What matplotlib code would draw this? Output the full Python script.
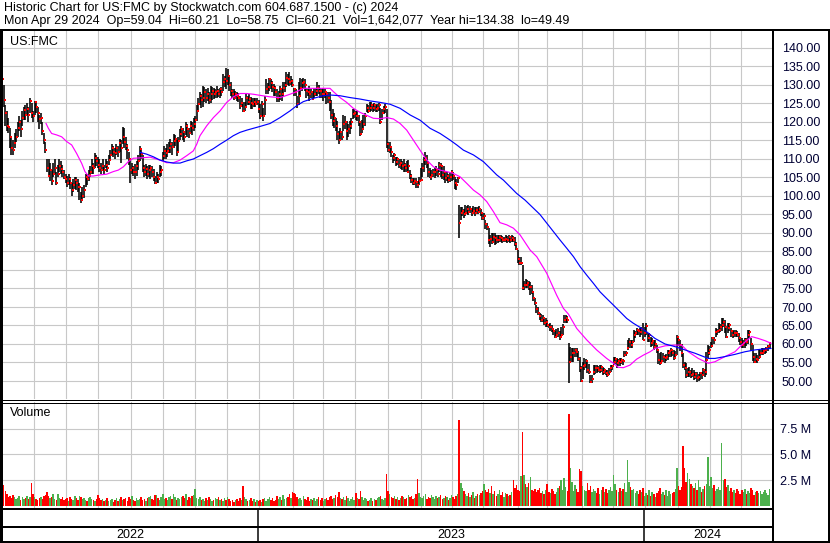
import numpy as np
import matplotlib
matplotlib.use("Agg")
import matplotlib.pyplot as plt
from matplotlib.lines import Line2D

plt.rcParams["font.family"] = ["Liberation Sans", "DejaVu Sans"]

# ------------------------------------------------------------------
# Daily bars, trading-day index 0 (early May 2022) .. 497 (Apr 29 2024)
# ------------------------------------------------------------------
closes = [
    131.5, 126, 122.3, 119, 118.7, 116, 113, 112.4, 114.4, 116,
    118.3, 120, 118, 121, 123.2, 122, 123.4, 122, 125.8, 122.5,
    121.5, 125.3, 124, 122.3, 120.8, 121, 117.7, 115.1, 112.4, 107.5,
    105.5, 107, 104.1, 106, 107.5, 103.6, 106, 108, 107.3, 106.5,
    105.2, 104.5, 103.5, 104.5, 103.4, 101.5, 103, 104.3, 103.5, 102.5,
    102.5, 98.9, 100, 101.5, 105.2, 104.5, 105.7, 106.5, 108, 107.5,
    110.2, 109.5, 108.4, 107.5, 107, 108, 107, 108.5, 107.5, 109.7,
    111, 112.9, 112, 111.5, 113, 112, 114.4, 113, 116, 114.5,
    113.5, 112.4, 110, 107, 107.5, 106.6, 106.4, 108, 109.5, 112.7,
    111.3, 107.7, 106.4, 107.3, 106, 107, 107.7, 106.5, 105, 103.6,
    105, 104.5, 106.4, 107, 110.9, 112.2, 111.5, 112.2, 113, 114,
    113.2, 114.9, 115.5, 112, 114.9, 116.7, 118, 117.2, 116, 119,
    118, 117, 119, 118.5, 119.4, 120.5, 123, 124.8, 127.1, 126,
    126.6, 128, 126.6, 127.5, 126, 127.5, 128.5, 127.5, 128.2, 128.4,
    127.5, 128.9, 128, 130.7, 131.5, 131.1, 132.5, 130, 128.4, 127.5,
    126.6, 127.5, 127.1, 126.5, 124.4, 125, 123, 124, 126.6, 125.5,
    126.2, 125, 124.8, 125.5, 124.8, 125.5, 123.5, 121.7, 124.8, 121.7,
    126, 128.9, 129.5, 131.6, 130.5, 129.5, 129.3, 128, 126.6, 127.5,
    128.9, 127.5, 129.3, 130, 132, 131.5, 130.7, 131.2, 130, 128.9,
    128, 124.8, 127, 129.3, 130.5, 130.7, 130, 128.4, 128, 127.5,
    128, 126.2, 127.5, 128.5, 129.3, 128.5, 128.4, 127.5, 127.5, 128,
    127.5, 126.5, 125.3, 122, 120.3, 121, 119, 116.7, 115, 117.2,
    116, 119.4, 120, 117.6, 118, 119, 120, 122.1, 122.5, 121.7,
    121.7, 120, 116.7, 118, 119.4, 121.5, 123.9, 123, 123.9, 124.5,
    123.9, 124.5, 123.5, 123.9, 124.5, 119.9, 122.5, 123.5, 124, 114,
    112.5, 113.3, 112, 110.2, 111, 109.3, 110, 108.5, 108.8, 108,
    108.4, 107.5, 106.6, 108, 105.5, 104.3, 103.4, 104, 103.8, 103,
    104, 104.3, 107.5, 109.7, 110.2, 109, 106.5, 105.2, 105.7, 106.5,
    106.6, 107, 106, 108.4, 108, 105.7, 106.5, 104.8, 105.5, 104.3,
    105, 106.6, 105.5, 103.5, 103, 104.8, 92.6, 95.3, 96, 95,
    95.3, 96.5, 95.8, 96.5, 95.3, 96, 95.3, 96.2, 95.8, 96.5,
    95.5, 94, 94.5, 92.5, 91.7, 88.1, 88.5, 87.7, 89, 88.6,
    88, 88.1, 88.8, 88.6, 88, 88.1, 88.5, 88.1, 88.8, 88,
    88.6, 88.2, 87, 85.8, 83, 81.8, 82, 75, 76, 75.9,
    76.5, 75.5, 75.5, 74, 72.5, 71, 69.5, 68.3, 67.5, 66.5,
    67, 65.6, 66, 65.1, 64.5, 64.7, 64, 63.5, 62, 62.4,
    63, 62, 62.5, 64.7, 66.5, 67, 66.5, 55, 56.6, 57.5,
    57.5, 58.5, 57.9, 56, 53.4, 50, 54, 54.3, 55.5, 53,
    52.5, 49.8, 50.5, 52.5, 53.5, 53.4, 53, 53, 53.8, 52.5,
    53, 52.2, 51.6, 52.5, 53.4, 54, 55.2, 56, 54.8, 55.5,
    55.2, 55.8, 55.5, 57, 57.5, 58.8, 60.5, 59.7, 60.5, 62.4,
    63, 63.8, 63.5, 63.3, 64, 61.1, 63, 64.9, 61.5, 62.4,
    60.2, 60.8, 59.3, 60, 58.5, 55.7, 54.8, 55.5, 56.5, 56.1,
    56.5, 57.5, 58, 58.4, 57.5, 56.1, 57, 62, 61, 59.7,
    57.5, 54.3, 53.5, 51.6, 52.5, 52.5, 51.5, 52, 51.2, 51.8,
    50.7, 51.2, 52.1, 51.5, 53, 52.5, 55.7, 57.5, 58.5, 59.5,
    61.5, 61, 63.3, 63.5, 63.8, 64.5, 65.1, 66, 64.5, 62,
    64.2, 65, 63.5, 62.4, 63, 62.9, 62.5, 61.5, 60.6, 59.7,
    60.2, 61.1, 60.5, 62.5, 63.3, 60, 56.6, 55.2, 56, 55.8,
    56.6, 57.5, 57.5, 58.2, 58.4, 58.8, 59.5, 60.21,
]

highs = [
    133, 130, 124.5, 123, 121, 118.5, 116, 115, 117, 118,
    120, 121.5, 120.5, 123, 124, 124.5, 125, 124, 126.5, 125,
    123, 125.8, 125.5, 124, 122, 122.5, 120, 117, 114.5, 110,
    110, 109, 107, 109, 110, 106.5, 108.5, 110, 109.5, 108.5,
    107, 106, 105.5, 106, 105, 103.5, 104.5, 105, 105, 104.5,
    103.5, 101, 102.5, 103, 106, 106, 107, 108, 110, 109,
    111.5, 111, 110.5, 110, 109, 110, 108.5, 110, 109.5, 111,
    112.5, 114, 113.5, 113, 114, 113.5, 115.5, 115, 118.7, 118.5,
    116, 114, 112, 110, 109, 108, 108.6, 109.5, 111, 113.6,
    113, 111, 108.5, 108.6, 108, 108.5, 108.5, 108, 107.3, 105.5,
    106.5, 106, 108.5, 108, 112, 113.6, 113, 114, 114.5, 115.4,
    114.5, 116.7, 116.5, 115, 116, 118, 119, 118.5, 117.5, 119.9,
    119.5, 118.5, 120.3, 120, 121.2, 121.5, 124.5, 126.6, 128, 127.5,
    129.8, 129.5, 129, 129.3, 128, 129.8, 129.5, 129.3, 129, 129.8,
    129, 129.3, 129.5, 132.9, 132.5, 134.7, 134.2, 132.5, 130.7, 129,
    128.9, 128.5, 128, 127.8, 127, 126.5, 125.5, 125.5, 127.5, 127,
    127.5, 126.8, 126.6, 126.5, 126.6, 126.5, 126, 124.8, 125.7, 123.9,
    127, 131.6, 130.5, 132, 131.5, 131, 130.2, 129.8, 129, 128.5,
    129.8, 129, 130.7, 130.7, 133.4, 133, 133.4, 132.5, 131.5, 129.3,
    129, 127, 130.7, 132, 131.5, 132, 131.5, 129.3, 129, 129.8,
    129, 128.5, 129.3, 129.3, 130.7, 130, 129.3, 129, 129.3, 129,
    128.4, 128, 128, 126, 123.5, 122.5, 121, 120.3, 117.5, 118.5,
    117.5, 122, 121.5, 120.3, 119.5, 120.3, 121, 123.5, 123.5, 123,
    123, 122, 120, 120.5, 122, 122.5, 124.8, 124.5, 125.3, 125.5,
    124.8, 125, 124.5, 124.8, 125, 123.9, 123.5, 124.4, 124.8, 123.5,
    114.5, 114.7, 113.5, 111.1, 111.5, 110.6, 110.5, 110, 110, 109.5,
    110, 109, 109.5, 109.8, 107, 106, 104.8, 104.8, 104.8, 104,
    105, 107.5, 109, 110.6, 112, 111, 109.5, 107.5, 107, 107.2,
    107.9, 108, 107.5, 109.3, 109, 108.4, 108, 106.6, 106.5, 106,
    106.6, 107, 106.5, 105.2, 104.5, 105, 97.6, 97, 97.1, 96.5,
    97.5, 97.3, 97.5, 97.3, 96.8, 97.3, 97.1, 97, 97.1, 97.3,
    96.6, 95.5, 95.3, 93.5, 92.8, 91.3, 89.5, 89.9, 89.9, 89.9,
    89.5, 89.5, 89.5, 89.5, 89.3, 89, 89.5, 89.2, 89.5, 89,
    89.5, 89.3, 89, 87.5, 85.4, 83.5, 83.5, 81.4, 77, 77.5,
    77.3, 77, 76.8, 76, 74.1, 72.5, 70.5, 70, 68.3, 68,
    67.8, 67.4, 67, 66.5, 65.5, 65.6, 65, 64.2, 63.5, 64,
    64.2, 63.5, 64.7, 65.5, 67.8, 67.8, 67.5, 60.2, 59.3, 59,
    58.8, 58.8, 58.8, 58, 56.6, 54, 55, 56.1, 56, 55.5,
    54.5, 51.6, 51.5, 54.3, 54.3, 54.3, 54, 54.3, 54.2, 53.9,
    53.5, 53, 53, 53.4, 54.3, 54.3, 56.6, 56.6, 56.1, 56,
    56.1, 56.1, 56, 58, 58, 61, 61.5, 61.1, 61, 63.8,
    63.5, 64.2, 64, 64.2, 64.5, 65.6, 64.5, 65.6, 63, 63,
    62, 61.5, 61.1, 61, 59.7, 58, 57.5, 57.9, 57.5, 57,
    57.2, 58.4, 58.4, 58.8, 58.5, 58.4, 58, 62.4, 62.2, 61,
    60, 57.5, 55, 54.8, 53.5, 53.9, 53, 53.5, 53, 52.5,
    52.5, 52, 52.5, 52.3, 53.4, 53.2, 57.9, 59.7, 59.5, 60.5,
    62, 62, 64.2, 64, 65.6, 65.3, 66.9, 66.9, 66.5, 64.5,
    65.6, 65.6, 64.2, 63.5, 63.8, 63.8, 63.5, 62.9, 61.5, 61.5,
    61, 61.5, 61.5, 63.8, 63.8, 61.5, 59.7, 57.5, 57.5, 57,
    58.4, 58.5, 58.8, 59, 59, 59.2, 59.8, 60.21,
]

lows = [
    129, 124, 119, 117.5, 117, 113, 111, 111, 113, 114.5,
    116, 117.5, 116, 119, 120.5, 120.5, 122, 120, 122.5, 121,
    120, 122, 122.5, 120, 118, 119.5, 116.5, 114, 111.5, 106.5,
    105, 104, 103, 105, 106, 103, 105, 106.5, 106, 105,
    104.5, 103.5, 102.5, 103, 102, 100, 101, 102, 101.5, 101,
    99, 98, 99, 99.5, 102.5, 103, 104, 105, 106, 106,
    107.5, 108, 107.5, 106.5, 106, 107, 106, 107.5, 106.5, 108.5,
    109.5, 111, 110.5, 110, 111, 110.5, 112, 109, 114, 113,
    112.5, 110, 108.5, 103.5, 106, 105.5, 104.5, 105.5, 107, 109.5,
    110, 106.5, 105, 105.5, 104.5, 105, 104.5, 105, 104, 103.2,
    103.5, 103.5, 105, 105.5, 109.5, 110, 110, 110.5, 111.5, 111.5,
    111, 113, 113.5, 110.9, 112, 115, 116, 115, 114.5, 116.5,
    116, 115.8, 117, 116.5, 117.5, 118.5, 120.3, 123, 124.5, 123.9,
    124, 125.5, 125, 125.8, 124.8, 125, 126, 126.2, 126.5, 126.6,
    126.8, 126.6, 127, 128.4, 129.5, 129, 130, 128.4, 127, 126.6,
    126, 126.2, 125.7, 125.5, 123.5, 124, 122.6, 123, 124, 124.5,
    124.5, 123.5, 123.5, 124, 124, 124.5, 122.5, 120.8, 121.5, 120.3,
    122, 127.5, 127.5, 128.4, 129, 128, 127, 127, 125.3, 125.5,
    126, 125.7, 127.1, 128, 129.5, 130, 129.8, 130, 129.5, 127.1,
    127, 123.9, 124.5, 127, 128.5, 129, 128.5, 126.6, 127, 125.7,
    126.5, 126, 126.5, 127, 127.1, 127.5, 126.6, 126.5, 125.7, 126.5,
    124.8, 125, 123, 120.8, 119, 118.5, 117.6, 115, 114, 115.4,
    115, 117.6, 118, 115, 116, 116.7, 118, 120.8, 121, 120.5,
    120.3, 119, 116.3, 117, 118, 119, 122.6, 122.5, 122.8, 123,
    122.8, 123, 122.8, 122.6, 123, 119.4, 120.5, 122.1, 122.5, 113,
    111.8, 111.5, 110.6, 108.8, 109.5, 108, 108.5, 107.5, 107.2, 107,
    106.6, 106.5, 106.5, 106.8, 104.5, 103.6, 103, 103, 102.1, 102.1,
    103, 104, 105, 106.6, 108.4, 107.5, 105, 104.8, 104.3, 105,
    104.8, 105.5, 105, 106.5, 105.2, 104.5, 104.3, 103.5, 104, 103.5,
    103.8, 104, 104.3, 102, 101.6, 103.5, 88.6, 93.5, 94.5, 94,
    94.5, 95, 94.8, 95.5, 94.5, 95, 94.5, 95, 95, 95.5,
    94.5, 93.5, 93.5, 91, 90.8, 87, 86.3, 87, 87.5, 86.7,
    87, 87.2, 87.5, 87.5, 87.2, 87.5, 87.5, 87.3, 87.5, 87.2,
    87.6, 87.5, 86.5, 85.4, 82, 81.4, 81.4, 74.6, 74.6, 75,
    75, 74.6, 73.2, 73.5, 71.5, 70.5, 68.5, 67.8, 66.5, 66,
    66, 65, 64.7, 64.5, 64.2, 63.5, 63.3, 62.5, 61.5, 62,
    62, 61.1, 61.5, 62.5, 65.6, 65.6, 65.8, 49.49, 55.5, 55.2,
    55, 56.5, 56.5, 55.5, 52.5, 49.8, 50.5, 53, 53.5, 52.1,
    52, 49.5, 49.5, 51.6, 52, 52.1, 52.3, 52.1, 52.5, 51.6,
    51.8, 51.5, 51.2, 51.5, 52.5, 53, 54.2, 54.5, 53.5, 54,
    54, 54.5, 54.3, 56.6, 56.8, 58.4, 59, 58.8, 59, 60.6,
    61.5, 62.5, 62.4, 62, 62.5, 61, 62, 62.4, 60.5, 60.5,
    59.3, 59.5, 58.4, 58.8, 57.5, 54.5, 54.3, 54.5, 55, 54.8,
    55.5, 55.7, 56.5, 56.6, 56.8, 55.7, 56, 57, 59.5, 58,
    56.5, 53.5, 53, 50.7, 51, 51, 50.8, 51, 50.3, 50.5,
    49.8, 50.1, 50.3, 50.5, 51.5, 51.2, 51.6, 56.1, 57, 58.8,
    59.5, 60, 62, 62.5, 63, 63.2, 63.5, 64.5, 63, 61.5,
    62.9, 63.5, 62, 61.5, 62, 62, 62, 60.5, 59.7, 58.8,
    59, 59, 59.5, 60, 61.5, 58, 55.5, 54.8, 55, 54.8,
    56, 56.5, 57, 57, 57.2, 57.5, 58, 58.75,
]

# volume in millions of shares
volumes = [
    1.8, 2.1, 1.5, 1.2, 0.9, 1.0, 0.8, 1.1, 0.9, 0.7,
    0.8, 1.0, 0.6, 0.9, 0.7, 0.8, 1.0, 0.7, 0.9, 2.3,
    1.2, 0.9, 0.7, 0.6, 0.8, 0.9, 0.7, 1.0, 1.1, 1.4,
    1.0, 0.8, 0.9, 1.2, 0.7, 0.6, 1.2, 0.8, 0.7, 0.9,
    0.6, 0.7, 0.8, 0.5, 0.9, 0.7, 0.6, 1.0, 0.8, 0.6,
    1.0, 0.9, 0.7, 0.8, 0.6, 0.5, 0.8, 0.9, 0.7, 0.6,
    0.5, 0.7, 1.1, 0.8, 0.6, 0.7, 0.5, 0.6, 0.8, 0.5,
    0.6, 0.7, 0.4, 0.6, 0.8, 0.5, 0.7, 0.9, 0.6, 0.7,
    0.8, 0.5, 0.9, 0.7, 1.0, 0.6, 0.5, 0.8, 0.6, 0.7,
    0.9, 0.6, 0.7, 0.5, 0.8, 0.9, 1.0, 0.7, 0.6, 1.1,
    1.1, 0.8, 0.6, 0.9, 1.2, 0.7, 0.8, 0.6, 0.9, 1.0,
    0.7, 1.2, 0.9, 0.6, 0.8, 0.7, 0.9, 1.0, 0.8, 1.2,
    0.6, 0.9, 0.8, 1.0, 1.1, 1.7, 0.8, 0.7, 0.9, 0.6,
    0.7, 0.5, 0.8, 0.6, 0.9, 0.7, 0.5, 0.6, 0.8, 0.7,
    0.9, 0.6, 0.7, 0.5, 0.8, 0.6, 0.9, 0.7, 0.5, 0.6,
    0.4, 0.6, 0.7, 0.5, 0.8, 0.6, 2.0, 0.9, 0.7, 0.5,
    0.6, 0.8, 0.5, 0.7, 0.4, 0.6, 0.5, 0.6, 0.4, 0.7,
    0.8, 0.5, 0.7, 0.9, 0.6, 0.8, 0.5, 0.6, 1.0, 0.7,
    0.9, 0.6, 1.1, 0.7, 0.8, 0.9, 1.2, 0.8, 1.4, 1.3,
    1.2, 0.9, 0.7, 0.8, 0.6, 1.0, 0.7, 0.6, 0.9, 0.5,
    0.7, 0.6, 0.8, 0.5, 0.7, 0.9, 0.6, 0.8, 0.5, 0.7,
    0.8, 0.6, 0.9, 1.0, 0.7, 0.8, 1.1, 0.9, 1.4, 0.8,
    0.7, 0.9, 0.6, 1.0, 0.8, 0.5, 0.7, 0.9, 0.6, 1.3,
    0.8, 0.7, 1.45, 0.9, 0.6, 0.8, 0.7, 0.5, 0.6, 0.8,
    0.5, 0.7, 0.6, 0.8, 0.9, 1.0, 0.7, 0.6, 0.8, 3.1,
    1.5, 1.2, 0.9, 0.8, 1.0, 0.7, 0.9, 0.6, 0.8, 1.0,
    0.9, 0.7, 0.8, 1.1, 0.9, 1.0, 0.7, 0.8, 1.2, 2.6,
    1.3, 0.9, 0.8, 1.0, 1.2, 0.7, 0.9, 0.8, 1.1, 0.9,
    0.7, 1.0, 0.8, 0.9, 1.1, 0.7, 0.8, 1.0, 0.9, 0.6,
    0.8, 1.1, 0.9, 0.7, 1.0, 1.2, 8.3, 2.3, 1.8, 1.5,
    1.2, 1.0, 1.3, 0.9, 1.1, 1.4, 0.8, 1.0, 1.2, 1.1,
    1.3, 1.5, 2.2, 1.6, 1.4, 1.7, 1.3, 2.0, 1.2, 1.5,
    1.0, 1.2, 1.6, 1.1, 1.4, 0.9, 1.3, 1.2, 1.0, 1.1,
    1.4, 2.5, 1.8, 2.1, 1.6, 1.5, 2.9, 7.2, 3.0, 2.2,
    1.9, 2.3, 2.8, 1.6, 1.5, 1.7, 1.4, 1.6, 1.8, 1.3,
    1.5, 1.2, 1.6, 2.2, 1.4, 1.3, 1.7, 1.5, 1.2, 1.4,
    1.8, 2.0, 2.5, 1.6, 2.7, 1.9, 1.5, 8.9, 3.7, 2.4,
    1.5, 2.1, 1.7, 1.4, 3.6, 3.4, 2.0, 1.6, 1.5, 2.3,
    1.6, 2.0, 1.4, 1.7, 1.5, 1.3, 1.8, 1.2, 1.6, 1.9,
    1.4, 1.7, 1.3, 1.6, 1.9, 1.5, 3.0, 2.2, 1.6, 1.4,
    1.8, 1.5, 1.7, 2.3, 1.4, 4.5, 2.4, 1.9, 1.6, 1.7,
    1.3, 1.5, 1.2, 1.6, 1.4, 1.8, 1.0, 1.3, 1.1, 1.6,
    1.0, 1.4, 1.2, 0.9, 1.3, 1.5, 1.8, 1.2, 1.4, 1.1,
    1.6, 1.0, 1.5, 1.2, 1.3, 1.4, 1.7, 3.7, 2.0, 1.6,
    1.9, 5.8, 3.7, 2.4, 3.2, 2.6, 2.2, 2.0, 1.8, 2.3,
    1.6, 2.5, 1.9, 1.4, 1.7, 2.0, 2.2, 4.8, 2.0, 2.8,
    1.8, 2.1, 1.5, 1.7, 1.9, 1.6, 6.1, 2.5, 2.6, 1.9,
    2.1, 1.5, 1.8, 1.4, 1.6, 1.3, 1.7, 1.5, 1.2, 1.6,
    1.4, 1.7, 1.2, 1.5, 1.3, 1.8, 1.6, 1.1, 1.4, 1.5,
    1.3, 1.5, 1.2, 1.4, 1.6, 1.3, 1.1, 1.64,
]

# moving averages (day index, value)
ma50_days = [28.4, 29.9, 32, 35.3, 38.5, 41.8, 45, 48.2, 51.5, 53.6, 55.8, 59,
             63.3, 67.7, 72, 75.2, 78.5, 81.7, 84.9, 89.3, 95.8, 102.2, 106.5,
             110.9, 115.2, 119.5, 123.8, 126, 128.1, 132.5, 136.8, 141.1, 145.4,
             149.7, 154, 158.4, 162.7, 167, 173.5, 180, 186.4, 190.7, 195, 201.5,
             208, 212.3, 214.5, 218.8, 223.1, 227.4, 231.8, 236.1, 240.4, 244.7,
             249, 253.4, 257.7, 262, 266.3, 270.6, 275, 279.3, 283.6, 287.9,
             292.2, 296.5, 300.9, 305.2, 309.5, 313.8, 318.1, 322.4, 326.8,
             331.1, 335.4, 341.9, 346.2, 352.7, 359.1, 363.5, 366.7, 372.1,
             378.6, 385, 391.5, 395.9, 399.1, 402.3, 406.6, 410.9, 415.3, 419.6,
             422.8, 429.3, 435.7, 440, 444.4, 450.8, 457.3, 461.6, 468.1, 474.6,
             478.9, 483.2, 485.4, 489.7, 494, 497.9]
ma50_vals = [119.6, 118.3, 116.9, 116.5, 116, 114.7, 113.8, 111.5, 108.8, 106.6,
             105.4, 105.4, 105.7, 105.9, 106.6, 107, 107.9, 109.3, 110.2, 110.3,
             110.5, 109.7, 109, 109, 109.7, 110.9, 112.2, 114, 116.3, 119, 121.2,
             123, 125.3, 126.8, 127.7, 127.7, 127.5, 127.2, 126.8, 126.6, 127.5,
             128.2, 129.1, 129.1, 129.1, 129.1, 128.2, 126.6, 125.3, 123.7, 122.6,
             121.8, 121, 120.9, 121.2, 120.8, 119.6, 117.8, 115.1, 112.4, 109.7,
             107.9, 107, 106.6, 106.1, 105.2, 103.4, 101.6, 100.3, 98.5, 95.8,
             92.8, 92.2, 91.3, 89.5, 85.4, 83.6, 79.1, 73.2, 69.6, 68.1, 64.2,
             61.1, 58.4, 56.1, 54.8, 53.7, 53.6, 54.3, 55.9, 57, 57.9, 58.8, 59.5,
             59.7, 59.7, 57.9, 56.1, 54.8, 55.2, 56.6, 57.9, 59.7, 61.3, 62, 61.5,
             60.9, 60.2]

ma200_days = [89.3, 93.6, 97.9, 102.2, 106.5, 110.9, 115.2, 119.5, 123.8, 128.1,
              132.5, 136.8, 141.1, 145.4, 149.7, 154, 158.4, 162.7, 167, 173.5,
              180, 186.4, 190.7, 195, 201.5, 208, 212.3, 218.8, 225.3, 231.8,
              238.2, 244.7, 251.2, 257.7, 264.2, 270.6, 277.1, 283.6, 290.1,
              294.4, 298.7, 305.2, 311.6, 316, 320.3, 324.6, 328.9, 333.2, 338.6,
              348.3, 361.3, 365.6, 370, 374.3, 378.6, 382.9, 387.2, 391.5, 395.9,
              400.2, 404.5, 408.8, 413.1, 417.4, 422.8, 429.3, 435.7, 442.2,
              448.7, 457.3, 461.6, 468.1, 474.6, 481, 487.5, 491.9, 497.9]
ma200_vals = [111.8, 111.3, 110.6, 109.7, 109.2, 108.9, 108.9, 109.5, 110, 110.9,
              111.8, 112.8, 114, 115.1, 116.3, 117.2, 117.8, 118.3, 118.8, 119.6,
              121.2, 123, 124.4, 125.5, 126.4, 127.1, 127.3, 127.1, 126.6, 126.2,
              125.7, 125.3, 124.8, 123.7, 121.9, 120.5, 118.3, 116.9, 115.1, 113.8,
              112.4, 111.1, 109.3, 107.5, 105.7, 104.3, 102.5, 100.7, 98.9, 95.0,
              88.1, 85.9, 83.6, 80.9, 78.6, 76.4, 74.1, 72.3, 70.5, 68.7, 66.9,
              65.6, 64.5, 63.3, 61.5, 60, 59.3, 58.4, 57.5, 56.1, 56.1, 56.6, 57.2,
              57.9, 58.4, 58.6, 58.8]

# month starts (trading-day index) and year starts
month_lines = [20.6, 41.3, 62, 83.4, 104.1, 124.9, 145.6, 166.3, 188.3, 207.8,
               228.5, 249.9, 271.2, 291.3, 311.4, 334.0, 352.9, 375.5, 395.6,
               416.3, 437.7, 458.4, 478.5]
year_starts = [165.7, 415.7]
year_labels = ["2022", "2023", "2024"]
price_ticks = list(range(50, 141, 5))
vol_ticks = [2.5, 5.0, 7.5]

header1 = "Historic Chart for US:FMC by Stockwatch.com 604.687.1500 - (c) 2024"
header2 = ("Mon Apr 29 2024  Op=59.04  Hi=60.21  Lo=58.75  Cl=60.21  "
           "Vol=1,642,077  Year hi=134.38  lo=49.49")

assert len(closes) == len(highs) == len(lows) == len(volumes) == 498

# ------------------------------------------------------------------
W, H = 830, 543
fig = plt.figure(figsize=(W / 100, H / 100), dpi=100)
fig.patch.set_facecolor("white")


def px_axes(x0, y0, x1, y1):
    return fig.add_axes([x0 / W, 1 - y1 / H, (x1 - x0) / W, (y1 - y0) / H])


def fline(xs, ys, lw):
    fig.add_artist(Line2D([x / W for x in xs], [1 - y / H for y in ys],
                          transform=fig.transFigure, color="black",
                          lw=lw * 0.72, solid_capstyle="butt"))


days = np.arange(len(closes))
c = np.array(closes)
xlim = ((2 - 2.2) / 1.544, (772 - 2.2) / 1.544)
GRID = "#c8c8c8"
LABEL = "#000033"

# ---------------- price panel ----------------
ax = px_axes(2, 31, 772, 399)
ax.set_xlim(*xlim)
ax.set_ylim(140 - 351 / 3.7, 140 + 17 / 3.7)
for m in month_lines:
    ax.axvline(m, color=GRID, lw=0.8, zorder=0)
for p in price_ticks:
    ax.axhline(p, color=GRID, lw=0.8, zorder=0)

ax.vlines(days, lows, highs, color="black", lw=1.15, zorder=2)
ax.plot(days + 0.6, c, "s", ms=1.5, mew=0, color="#ff0000", zorder=3)
ax.plot(ma50_days, ma50_vals, color="#ff00ff", lw=0.85, zorder=4)
ax.plot(ma200_days, ma200_vals, color="#0000ff", lw=0.85, zorder=4)

ax.yaxis.tick_right()
ax.set_yticks(price_ticks)
ax.set_yticklabels([f"{p:.2f}" for p in price_ticks])
ax.tick_params(axis="y", length=0, pad=7, labelsize=9, labelcolor=LABEL)
ax.set_xticks([])
for s in ax.spines.values():
    s.set_visible(False)
ax.text(8 / 770, 1 - 11 / 368, "US:FMC", transform=ax.transAxes,
        fontsize=9, va="center", ha="left")

# ---------------- volume panel ----------------
axv = px_axes(2, 402, 772, 508)
axv.set_xlim(*xlim)
axv.set_ylim(-0.15, 10.05)
for m in month_lines:
    axv.axvline(m, color=GRID, lw=0.8, zorder=0)
for v in vol_ticks:
    axv.axhline(v, color=GRID, lw=0.8, zorder=0)
up = np.r_[False, c[1:] >= c[:-1]]
colors = np.where(up, "#4cb04c", "#ff0000")
axv.bar(days, volumes, width=0.95, color=colors, linewidth=0, zorder=2,
        antialiased=False)
axv.yaxis.tick_right()
axv.set_yticks(vol_ticks)
axv.set_yticklabels([f"{v:.1f} M" for v in vol_ticks])
axv.tick_params(axis="y", length=0, pad=6, labelsize=9, labelcolor=LABEL)
axv.set_xticks([])
for s in axv.spines.values():
    s.set_visible(False)
axv.text(8 / 770, 1 - 11 / 106, "Volume", transform=axv.transAxes,
         fontsize=9, va="center", ha="left")

# ---------------- year band ----------------
axy = px_axes(2, 527, 772, 541)
axy.set_xlim(*xlim)
axy.set_ylim(0, 1)
axy.axis("off")
bounds = [xlim[0]] + year_starts + [len(closes)]
for i, lab in enumerate(year_labels):
    axy.text((bounds[i] + bounds[i + 1]) / 2, 0.45, lab, ha="center",
             va="center", fontsize=9)

# ---------------- frame ----------------
fline([0, W], [30, 30], 2)
fline([1, 1], [30, H], 3)
fline([773, 773], [30, 541], 2)
fline([W - 1, W - 1], [30, H], 2)
fline([0, W], [399.5, 399.5], 1)
fline([0, W], [402.5, 402.5], 1)
fline([0, 773], [508.5, 508.5], 2)
fline([0, 773], [527, 527], 2)
fline([0, W], [541.5, 541.5], 2)
for yx in year_starts:
    xp = 2.2 + yx * 1.544
    fline([xp, xp], [508, 541], 1.5)

fig.text(4 / W, 1 - 8.5 / H, header1, fontsize=9, va="center", ha="left")
fig.text(4 / W, 1 - 21 / H, header2, fontsize=9, va="center", ha="left")

fig.savefig("out.png", dpi=100)
